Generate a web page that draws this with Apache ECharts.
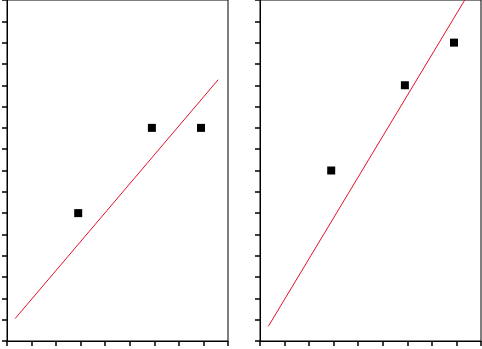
<!DOCTYPE html>
<html>
<head>
<meta charset="utf-8">
<script src="https://cdn.jsdelivr.net/npm/echarts@6/dist/echarts.min.js"></script>
<style>html,body{margin:0;padding:0;background:#fff;}#c{width:482px;height:349px;}</style>
</head>
<body>
<div id="c"></div>
<script>
// Left panel
var leftPointsX = [2.9, 5.9, 7.9];
var leftPointsY = [6, 10, 10];
var leftLineX = [0.33, 8.6];
var leftLineY = [1.05, 12.26];
// Right panel
var rightPointsX = [2.9, 5.9, 7.9];
var rightPointsY = [8, 12, 14];
var rightLineX = [0.34, 8.6];
var rightLineY = [0.69, 16.5];

function pairs(xs, ys){ return xs.map(function(x,i){ return [x, ys[i]]; }); }

function xAx(gi){
  return {type:'value', gridIndex:gi, min:0, max:9, interval:1,
    axisLine:{show:true, onZero:false, lineStyle:{color:'#000', width:1}},
    axisTick:{show:true, inside:false, length:5, lineStyle:{color:'#000', width:1.5}},
    axisLabel:{show:false}, splitLine:{show:false}};
}
function yAx(gi){
  return {type:'value', gridIndex:gi, min:0, max:16, interval:1,
    axisLine:{show:true, onZero:false, lineStyle:{color:'#000', width:1}},
    axisTick:{show:true, inside:false, length:5, lineStyle:{color:'#000', width:1.5}},
    axisLabel:{show:false}, splitLine:{show:false}};
}

var chart = echarts.init(document.getElementById('c'), null, {renderer:'canvas'});
chart.setOption({
  animation:false,
  backgroundColor:'#fff',
  grid:[
    {left:7, top:0, width:221, height:341, show:true, borderColor:'#000', borderWidth:1, backgroundColor:'transparent'},
    {left:260, top:0, width:221, height:341, show:true, borderColor:'#000', borderWidth:1, backgroundColor:'transparent'}
  ],
  xAxis:[xAx(0), xAx(1)],
  yAxis:[yAx(0), yAx(1)],
  series:[
    {type:'line', xAxisIndex:0, yAxisIndex:0, data:pairs(leftLineX,leftLineY), showSymbol:false, clip:true,
      lineStyle:{color:'#e8102a', width:1}},
    {type:'scatter', xAxisIndex:0, yAxisIndex:0, data:pairs(leftPointsX,leftPointsY), symbol:'rect', symbolSize:8,
      itemStyle:{color:'#000', opacity:1}},
    {type:'line', xAxisIndex:1, yAxisIndex:1, data:pairs(rightLineX,rightLineY), showSymbol:false, clip:true,
      lineStyle:{color:'#e8102a', width:1}},
    {type:'scatter', xAxisIndex:1, yAxisIndex:1, data:pairs(rightPointsX,rightPointsY), symbol:'rect', symbolSize:8,
      itemStyle:{color:'#000', opacity:1}}
  ]
});
</script>
</body>
</html>
